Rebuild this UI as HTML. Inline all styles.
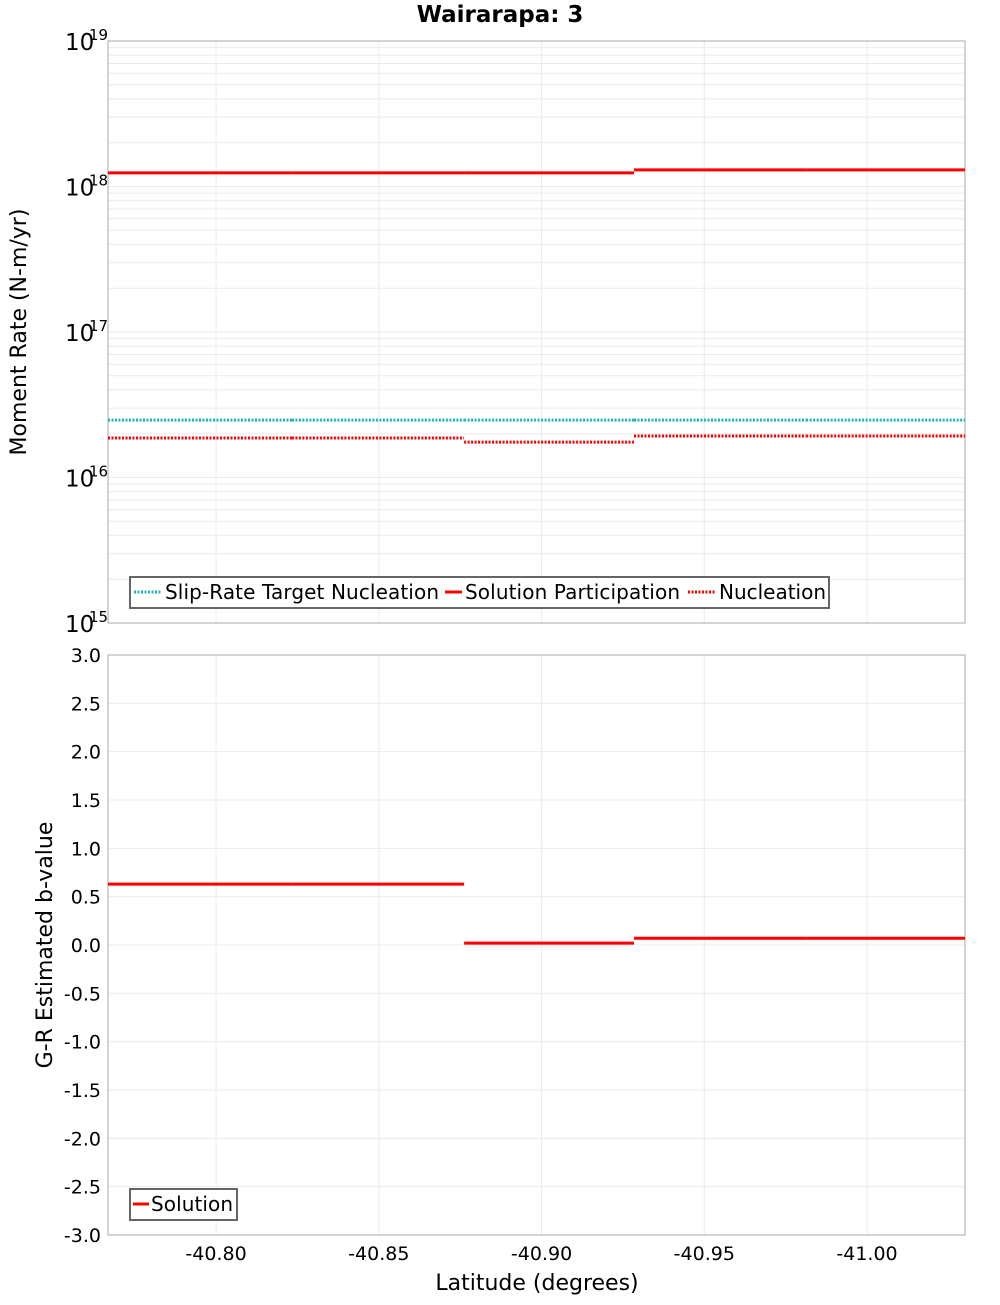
<!DOCTYPE html>
<html><head><meta charset="utf-8"><style>
body{margin:0;background:#fff;width:1000px;height:1300px;overflow:hidden}
svg text{font-family:"DejaVu Sans","Liberation Sans",sans-serif}
</style></head><body>
<svg id="c" width="1000" height="1300" xmlns="http://www.w3.org/2000/svg"></svg>
<script>
const segEdges = [-40.7668, -40.8233, -40.8762, -40.9284, -40.9813, -41.0301];
const solutionParticipation = [1.24e18, 1.24e18, 1.24e18, 1.30e18, 1.30e18];
const targetNucleation = [2.48e16, 2.48e16, 2.48e16, 2.48e16, 2.48e16];
const nucleation = [1.87e16, 1.87e16, 1.75e16, 1.93e16, 1.93e16];
const bValues = [0.63, 0.63, 0.02, 0.07, 0.07];
const xTicks = [-40.80, -40.85, -40.90, -40.95, -41.00];
const xTickLabels = ["-40.80", "-40.85", "-40.90", "-40.95", "-41.00"];
const logDecades = [15, 16, 17, 18, 19];
const bTicks = [-3, -2.5, -2, -1.5, -1, -0.5, 0, 0.5, 1, 1.5, 2, 2.5, 3];

const NS = "http://www.w3.org/2000/svg";
const svg = document.getElementById('c');
const L = 108, R = 965, T1 = 41, B1 = 623, T2 = 655, B2 = 1235;
const X0 = -40.7668, X1 = -41.0301;
const xs = v => L + (v - X0) / (X1 - X0) * (R - L);
const ys1 = v => B1 - (Math.log10(v) - 15) / 4 * (B1 - T1);
const ys2 = v => B2 - (v + 3) / 6 * (B2 - T2);
function mk(tag, a, txt) {
  const e = document.createElementNS(NS, tag);
  for (const k in a) e.setAttribute(k, a[k]);
  if (txt !== undefined) e.textContent = txt;
  svg.appendChild(e); return e;
}
let e;
for (let d = 15; d < 19; d++) for (let m = 1; m < 10; m++) {
  const y = ys1(m * Math.pow(10, d));
  e = mk('line', {x1: L, x2: R, y1: y, y2: y, stroke: '#ebebeb', 'stroke-width': 1});
  
  
}
for (const t of bTicks) {
  const y = ys2(t);
  e = mk('line', {x1: L, x2: R, y1: y, y2: y, stroke: '#ebebeb', 'stroke-width': 1});
  
  
}
for (const t of xTicks) {
  const x = xs(t);
  e = mk('line', {x1: x, x2: x, y1: T1, y2: B1, stroke: '#ebebeb'});
  
  
  e = mk('line', {x1: x, x2: x, y1: T2, y2: B2, stroke: '#ebebeb'});
  
  
}
e = mk('rect', {x: L, y: T1, width: R - L, height: B1 - T1, fill: 'none', stroke: '#aaa'});


e = mk('rect', {x: L, y: T2, width: R - L, height: B2 - T2, fill: 'none', stroke: '#aaa'});


function steps(vals, ys, color, dash, name) {
  vals.forEach((v, i) => {
    e = mk('line', {x1: xs(segEdges[i]), x2: xs(segEdges[i + 1]), y1: ys(v), y2: ys(v), stroke: color, 'stroke-width': 3, 'stroke-dasharray': dash || 'none'});
    
    
  });
}
steps(targetNucleation, ys1, '#1fb5b5', '2,1.5', 'target-nucleation-segment');
steps(nucleation, ys1, '#ff0000', '2,1.5', 'nucleation-segment');
steps(solutionParticipation, ys1, '#ff0000', null, 'solution-participation-segment');
steps(bValues, ys2, '#ff0000', null, 'b-value-segment');
for (const d of logDecades) {
  const y = ys1(Math.pow(10, d));
  e = mk('text', {x: 65, y: y + 9, 'font-size': 23, fill: '#000'}, '10');
  
  
  e = mk('text', {x: 89, y: y - 1, 'font-size': 15, fill: '#000'}, String(d));
  
  
}
for (const t of bTicks) {
  e = mk('text', {x: 101, y: ys2(t) + 7, 'font-size': 19, 'text-anchor': 'end'}, t.toFixed(1));
  
  
}
xTicks.forEach((t, i) => {
  e = mk('text', {x: xs(t), y: 1260, 'font-size': 19, 'text-anchor': 'middle'}, xTickLabels[i]);
  
  
});
</script>
<svg style="position:absolute;left:0;top:0" width="1000" height="1300" xmlns="http://www.w3.org/2000/svg">
<text x="500" y="22" font-size="23" font-weight="bold" text-anchor="middle" font-family="DejaVu Sans, sans-serif">Wairarapa: 3</text>
<text transform="translate(26,332) rotate(-90)" font-size="22" text-anchor="middle" font-family="DejaVu Sans, sans-serif">Moment Rate (N-m/yr)</text>
<text transform="translate(52,945) rotate(-90)" font-size="22" text-anchor="middle" font-family="DejaVu Sans, sans-serif">G-R Estimated b-value</text>
<text x="537" y="1290" font-size="22" text-anchor="middle" font-family="DejaVu Sans, sans-serif">Latitude (degrees)</text>
<g font-family="DejaVu Sans, sans-serif" font-size="20">
<rect x="130" y="577" width="699" height="31" fill="#fff" stroke="#666" stroke-width="2"/>
<line x1="134" x2="161" y1="592" y2="592" stroke="#1fb5b5" stroke-width="3" stroke-dasharray="2,1.5"/>
<text x="165" y="599" textLength="274">Slip-Rate Target Nucleation</text>
<line x1="445" x2="462" y1="592" y2="592" stroke="#f00" stroke-width="3"/>
<text x="465" y="599" textLength="215">Solution Participation</text>
<line x1="688" x2="716" y1="592" y2="592" stroke="#f00" stroke-width="3" stroke-dasharray="2,1.5"/>
<text x="719" y="599" textLength="107">Nucleation</text>
</g>
<g font-family="DejaVu Sans, sans-serif" font-size="20">
<rect x="130" y="1189" width="107" height="31" fill="#fff" stroke="#666" stroke-width="2"/>
<line x1="133" x2="149" y1="1204" y2="1204" stroke="#f00" stroke-width="3"/>
<text x="151" y="1211" textLength="82">Solution</text>
</g>
</svg>
</body></html>
